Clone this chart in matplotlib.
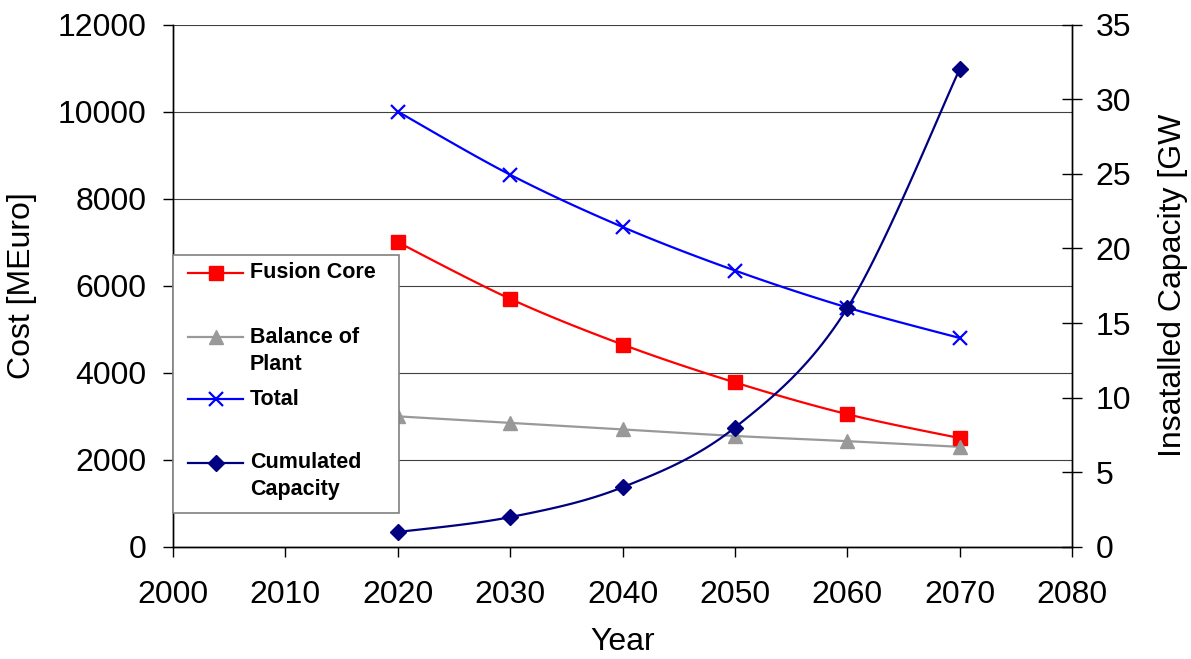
import matplotlib

matplotlib.use("Agg")

import matplotlib.pyplot as plt
import numpy as np
from matplotlib.patches import Rectangle

plt.rcParams["font.family"] = ["Liberation Sans", "DejaVu Sans"]

years = [2020, 2030, 2040, 2050, 2060, 2070]
fusion_core = [7000, 5700, 4650, 3780, 3050, 2500]
balance_of_plant = [3000, 2850, 2700, 2550, 2430, 2300]
total = [10000, 8550, 7350, 6350, 5500, 4800]
cumulated_capacity = [1, 2, 4, 8, 16, 32]

x_ticks = list(range(2000, 2081, 10))
cost_ticks = list(range(0, 12001, 2000))
cap_ticks = list(range(0, 36, 5))


def _smooth(xs, ys, n=24):
    # Excel-style smoothed line (Catmull-Rom as cubic Bezier)
    p = np.column_stack([xs, ys]).astype(float)
    out = [p[0]]
    t = np.linspace(0, 1, n)[1:, None]
    for i in range(len(p) - 1):
        p0 = p[i - 1] if i > 0 else p[i]
        p1, p2 = p[i], p[i + 1]
        p3 = p[i + 2] if i + 2 < len(p) else p[i + 1]
        c1 = p1 + (p2 - p0) / 6
        c2 = p2 - (p3 - p1) / 6
        seg = ((1 - t) ** 3) * p1 + 3 * ((1 - t) ** 2) * t * c1 + 3 * (1 - t) * t**2 * c2 + t**3 * p2
        out.extend(seg)
    out = np.array(out)
    return out[:, 0], out[:, 1]


series = [
    ("Fusion Core", fusion_core, "#FF0000", "s", {"markersize": 9.5}),
    ("Balance of\nPlant", balance_of_plant, "#999999", "^", {"markersize": 10}),
    ("Total", total, "#0000FF", "x", {"markersize": 10, "markeredgewidth": 1.6}),
]

fig = plt.figure(figsize=(11.91, 6.59), dpi=100)
ax = fig.add_axes([0.1453, 0.1700, 0.7548, 0.7928])
ax2 = ax.twinx()

for label, vals, color, marker, mk in series:
    sx, sy = _smooth(years, vals)
    ax.plot(sx, sy, color=color, lw=1.6, zorder=3)
    ax.plot(years, vals, linestyle="none", marker=marker, color=color,
            markeredgecolor=color, zorder=4, **mk)

sx, sy = _smooth(years, cumulated_capacity)
ax2.plot(sx, sy, color="#000080", lw=1.6, zorder=3)
ax2.plot(years, cumulated_capacity, linestyle="none", marker="D", color="#000080",
         markersize=8.5, zorder=4)

ax.set_xlim(2000, 2080)
ax.set_ylim(0, 12000)
ax2.set_ylim(0, 35)
ax.set_xticks(x_ticks)
ax.set_yticks(cost_ticks)
ax2.set_yticks(cap_ticks)

ax.grid(True, axis="y", color="#404040", lw=0.8, zorder=0)
ax.set_axisbelow(True)
for a in (ax, ax2):
    a.spines["top"].set_visible(False)
    for s in ("left", "bottom", "right"):
        a.spines[s].set_color("black")
        a.spines[s].set_linewidth(1.0)

ax.tick_params(axis="x", direction="out", length=7, width=1, labelsize=23, pad=17)
ax.tick_params(axis="y", direction="out", length=7, width=1, labelsize=23, pad=12)
ax2.tick_params(axis="y", direction="inout", length=14, width=1, labelsize=23, pad=10)

ax.set_xlabel("Year", fontsize=23, labelpad=12)
ax.set_ylabel("Cost [MEuro]", fontsize=23, labelpad=15)
ax2.set_ylabel("Insatalled Capacity [GW", fontsize=23, labelpad=19)

# legend box drawn like the Excel original (markers aligned with first text line)
ax2.add_patch(Rectangle((0.0, 0.0656), 0.2517, 0.4933, transform=ax2.transAxes,
                        facecolor="white", edgecolor="#808080", lw=1.2,
                        zorder=10, clip_on=False))
legend_rows = [
    ("Fusion Core", "#FF0000", "s", 9.5, 0.525, [0.525]),
    ("Balance of", "#999999", "^", 10, 0.4013, [0.4013, 0.3502]),
    ("Total", "#0000FF", "x", 10, 0.2827, [0.2827]),
    ("Cumulated", "#000080", "D", 8.5, 0.1613, [0.1613, 0.1091]),
]
extra_lines = {"Balance of": "Plant", "Cumulated": "Capacity"}
for text, color, marker, ms, yk, ylines in legend_rows:
    ax2.plot([0.0167, 0.0473, 0.0779], [yk, yk, yk], transform=ax2.transAxes,
             color=color, lw=1.6, marker=marker, markevery=[1], markersize=ms,
             markeredgewidth=1.6 if marker == "x" else 1.0,
             zorder=11, clip_on=False)
    ax2.text(0.0857, ylines[0], text, transform=ax2.transAxes, fontsize=15.5,
             fontweight="bold", va="center", ha="left", zorder=12)
    if text in extra_lines:
        ax2.text(0.0857, ylines[1], extra_lines[text], transform=ax2.transAxes,
                 fontsize=15.5, fontweight="bold", va="center", ha="left", zorder=12)

fig.savefig("out.png", dpi=100)
plt.close(fig)
